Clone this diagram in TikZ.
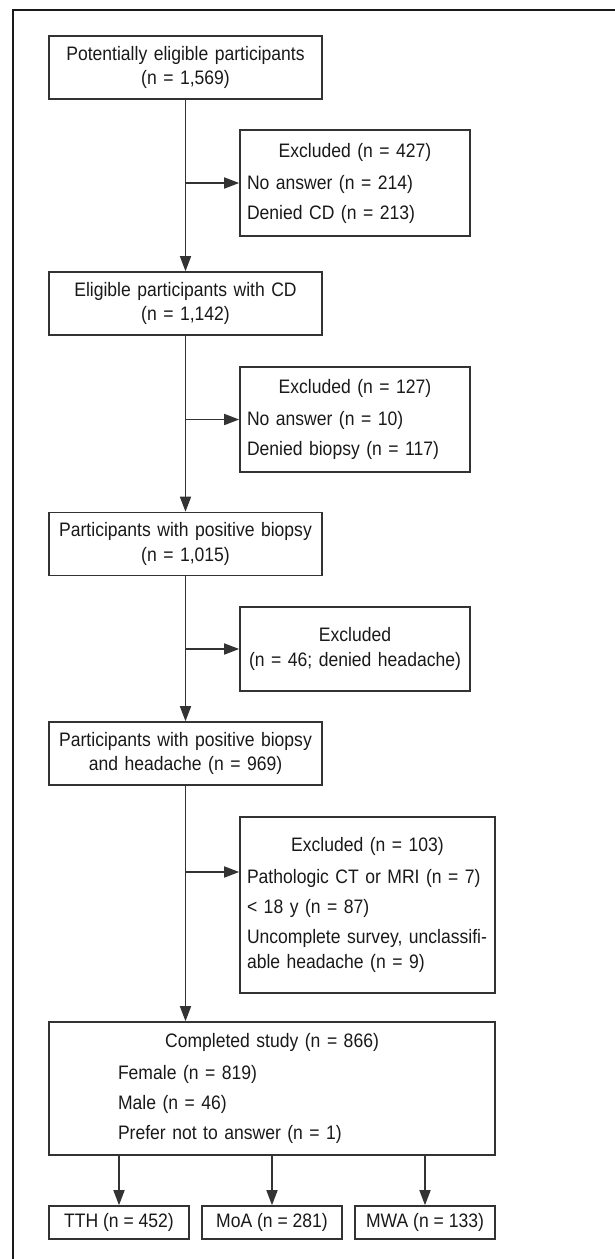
\documentclass[tikz,border=0pt]{standalone}
\usepackage{fontspec}
\setmainfont{Liberation Sans}[FakeStretch=0.9]
\usetikzlibrary{arrows.meta,calc}

\begin{document}
\begin{tikzpicture}[x=0.5pt,y=-0.5pt,
    every node/.style={font=\fontsize{9.75}{12.25}\selectfont,text=black!90},
    flowline/.style={draw=black!80,line width=0.8pt},
    flowarrow/.style={flowline,-{Triangle[length=7.5pt,width=5.5pt]}},
    stagebox/.style={flowline,inner sep=0pt,align=center,
        minimum width=136.5pt,minimum height=31.5pt,text width=130pt},
    exclbox/.style={flowline,inner sep=0pt,align=left,
        minimum width=115pt,text width=108pt},
    leafbox/.style={flowline,inner sep=0pt,align=center,
        minimum width=70pt,minimum height=16.5pt}]
\useasboundingbox (0,0) rectangle (615,1259);
% outer frame, cut by the page on the right and at the bottom
\draw[line width=1pt,black!90] (13,1290) -- (13,10) -- (640,10);

% main column
\node[stagebox] (b1) at (185.5,67.5) {Potentially eligible participants\\(n = 1,569)};
\node[stagebox] (b2) at (185.5,303.5) {Eligible participants with CD\\(n = 1,142)};
\node[stagebox] (b3) at (185.5,544) {Participants with positive biopsy\\(n = 1,015)};
\node[stagebox] (b4) at (185.5,753.5) {Participants with positive biopsy\\and headache (n = 969)};
\node[flowline,inner sep=0pt,align=left,minimum width=223pt,minimum height=66.5pt,
    text width=216pt] (b5) at (272,1088.5) {\makebox[\linewidth]{Completed study (n = 866)}\\[3.75pt]
    \hspace*{31pt}Female (n = 819)\\[2.75pt]
    \hspace*{31pt}Male (n = 46)\\[2.75pt]
    \hspace*{31pt}Prefer not to answer (n = 1)};

% exclusions
\node[exclbox,minimum height=53pt] (e1) at (355,183) {\makebox[\linewidth]{Excluded (n = 427)}\\[3.75pt]
    No answer (n = 214)\\[2.75pt]
    Denied CD (n = 213)};
\node[exclbox,minimum height=52.5pt] (e2) at (355,419.5) {\makebox[\linewidth]{Excluded (n = 127)}\\[3.75pt]
    No answer (n = 10)\\[2.75pt]
    Denied biopsy (n = 117)};
\node[exclbox,minimum height=42pt,align=center] (e3) at (355,649) {Excluded\\(n = 46; denied headache)};
\node[exclbox,minimum width=127.5pt,text width=120.5pt,minimum height=88pt] (e4) at (367.5,905)
    {\makebox[\linewidth]{Excluded (n = 103)}\\[3.75pt]
    Pathologic CT or MRI (n = 7)\\[2.75pt]
    < 18 y (n = 87)\\[2.75pt]
    Uncomplete survey, unclassifi-\\able headache (n = 9)};

% headache types
\node[leafbox] (tth) at (119,1222.5) {TTH (n = 452)};
\node[leafbox] (moa) at (272,1222.5) {MoA (n = 281)};
\node[leafbox] (mwa) at (425,1222.5) {MWA (n = 133)};

\draw[flowarrow] (b1.south) -- (b2.north);
\draw[flowarrow] (b2.south) -- (b3.north);
\draw[flowarrow] (b3.south) -- (b4.north);
\draw[flowarrow] (b4.south) -- (b4.south |- b5.north);
\draw[flowarrow] (b1.south |- e1.west) -- (e1.west);
\draw[flowarrow] (b2.south |- e2.west) -- (e2.west);
\draw[flowarrow] (b3.south |- e3.west) -- (e3.west);
\draw[flowarrow] ($ (b4.south |- e4.west) + (0,-33) $) -- ($ (e4.west) + (0,-33) $);
\draw[flowarrow] (tth.north |- b5.south) -- (tth.north);
\draw[flowarrow] (moa.north |- b5.south) -- (moa.north);
\draw[flowarrow] (mwa.north |- b5.south) -- (mwa.north);
\end{tikzpicture}
\end{document}
